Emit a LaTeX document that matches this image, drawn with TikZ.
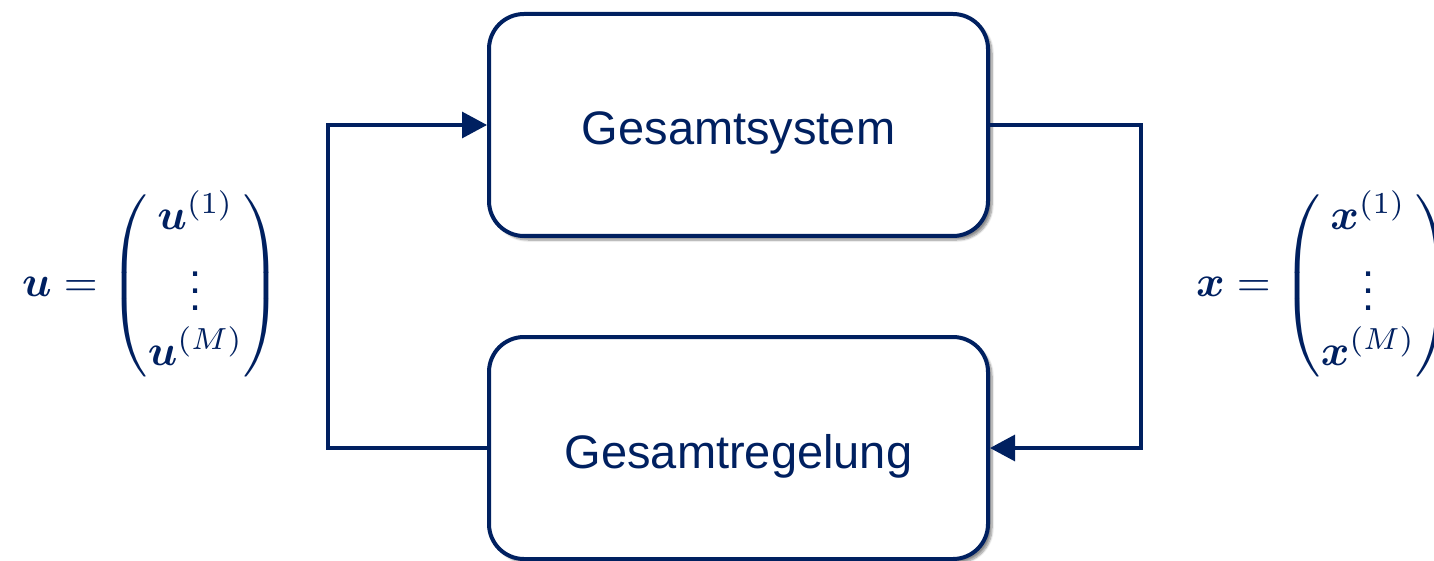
\documentclass[tikz,border=0pt]{standalone}
\usepackage{amsmath}
\usepackage{graphicx}
\usepackage{fontspec}
\setmainfont{Liberation Sans}
\usetikzlibrary{arrows.meta,shadows.blur}
\definecolor{navy}{RGB}{0,32,96}

\begin{document}
\begin{tikzpicture}[x=1pt,y=-1pt,
  block/.style={draw=navy, line width=4pt, rounded corners=35pt, fill=white,
    minimum width=499pt, minimum height=222pt, text=navy,
    font=\fontsize{47}{56}\selectfont, text height=40pt, text depth=0pt,
    blur shadow={shadow xshift=4pt, shadow yshift=-4pt, shadow blur steps=8, shadow opacity=45}},
  flow/.style={draw=navy, line width=3.2pt, -{Triangle[length=25pt,width=26pt]}},
  vec/.style={text=navy, inner sep=0pt}]
  \useasboundingbox (0,0) rectangle (1434,561);

  % the two blocks of the loop
  \node[block] (sys) at (738.5,125) {Gesamtsystem};
  \node[block] (reg) at (738.5,448) {Gesamtregelung};

  % columns of the feedback lines
  \coordinate (lc) at (328,0);
  \coordinate (rc) at (1141,0);

  \draw[flow] (reg.west) -- (reg.west -| lc) -- (sys.west -| lc) -- (sys.west);
  \draw[flow] (sys.east) -- (sys.east -| rc) -- (reg.east -| rc) -- (reg.east);

  % input and state vectors
  \node[vec, anchor=west] (u) at (22,286)
    {\scalebox{4.35}{$\boldsymbol{u} = \begin{pmatrix} \boldsymbol{u}^{(1)}\\ \vdots \\ \boldsymbol{u}^{(M)}\end{pmatrix}$}};
  \node[vec, anchor=west] (x) at (1196,286)
    {\scalebox{4.35}{$\boldsymbol{x} = \begin{pmatrix} \boldsymbol{x}^{(1)}\\ \vdots \\ \boldsymbol{x}^{(M)}\end{pmatrix}$}};
\end{tikzpicture}
\end{document}
